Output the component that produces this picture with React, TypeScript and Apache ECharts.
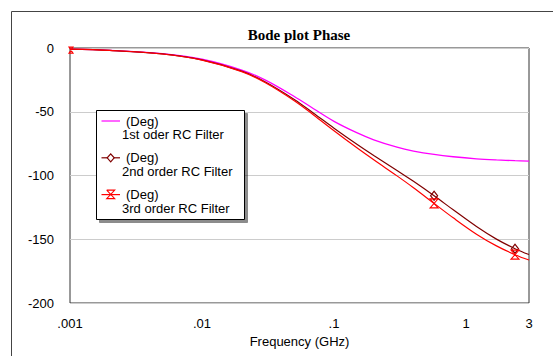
import React, { useEffect, useRef } from 'react';
import * as echarts from 'echarts';

const chartTitle = 'Bode plot Phase';
const xAxisName = 'Frequency (GHz)';
const unitLabel = '(Deg)';
const seriesNames = ['1st oder RC Filter', '2nd order RC Filter', '3rd order RC Filter'];

// frequency in GHz
const frequencies = [0.001, 0.002, 0.005, 0.01, 0.02, 0.03, 0.05, 0.07, 0.1, 0.15, 0.2, 0.3, 0.4, 0.573, 0.8, 1.2, 1.7, 2.35, 3];
// phase in degrees
const firstOrder = [-0.9, -1.8, -4.4, -8.8, -17.3, -25.0, -38.0, -47.6, -57.5, -66.6, -72.0, -77.8, -80.8, -83.5, -85.3, -86.9, -87.8, -88.4, -88.7];
const secondOrder = [-0.9, -1.9, -4.6, -9.3, -18.1, -26.4, -40.3, -51.1, -62.9, -75.7, -84.3, -96.0, -104.6, -115.9, -126.9, -140.0, -149.9, -157.4, -162.0];
const thirdOrder = [-0.9, -1.9, -4.7, -9.5, -18.5, -27.0, -41.3, -52.5, -64.9, -78.5, -87.7, -100.3, -109.6, -121.9, -133.2, -146.0, -155.2, -162.1, -166.3];
const secondMarkerIndices = [13, 17];
const thirdMarkerIndices = [0, 13, 17];

const xTickValues = [0.001, 0.01, 0.1, 1, 3];
const xTickLabels = ['.001', '.01', '.1', '1', '3'];
const yMin = -200;
const yMax = 0;
const yInterval = 50;

const colors = ['#ff00ff', '#800000', '#ff0000'];
const HOURGLASS = 'path://M0,0L10,0L0,10L10,10Z';

function xLabel(v: number): string {
  for (let i = 0; i < xTickValues.length; i++) {
    if (Math.abs(Math.log10(v) - Math.log10(xTickValues[i])) < 1e-4) return xTickLabels[i];
  }
  return '';
}

function buildData(values: number[], markers: number[], symbol: string | null, size: number[]) {
  return frequencies.map((f, i) => {
    if (symbol && markers.includes(i)) {
      if (i === 0) {
        return { value: [f, values[i]], symbol, symbolSize: [4, 6], symbolOffset: [1, 1] };
      }
      return { value: [f, values[i]], symbol, symbolSize: size };
    }
    return { value: [f, values[i]], symbol: 'none' };
  });
}

function legendGraphic() {
  const boxX = 96.5;
  const boxY = 110.5;
  const Z = 100;
  const children: any[] = [
    {
      type: 'rect',
      z: Z,
      shape: { x: boxX, y: boxY, width: 148, height: 109 },
      style: { fill: '#fff', stroke: '#000', lineWidth: 1, shadowColor: 'rgba(0,0,0,0.45)', shadowOffsetX: 3, shadowOffsetY: 3, shadowBlur: 1 },
    },
  ];
  const font = '13px "Liberation Sans", Arial, sans-serif';
  seriesNames.forEach((name, i) => {
    const cy = 121 + i * 36.8;
    children.push({
      type: 'line',
      z: Z + 1,
      shape: { x1: 101.5, y1: cy, x2: 120, y2: cy },
      style: { stroke: colors[i], lineWidth: 1.2 },
    });
    if (i === 1) {
      children.push({
        type: 'polygon',
        z: Z + 2,
        shape: { points: [[110.7, cy - 4], [114.2, cy], [110.7, cy + 4], [107.2, cy]] },
        style: { fill: '#fff', stroke: colors[i], lineWidth: 1.2 },
      });
    }
    if (i === 2) {
      children.push({
        type: 'polyline',
        z: Z + 2,
        shape: { points: [[106.7, cy - 4.5], [114.7, cy - 4.5], [106.7, cy + 4], [114.7, cy + 4], [106.7, cy - 4.5]] },
        style: { fill: 'none', stroke: colors[i], lineWidth: 1.1 },
      });
    }
    children.push({
      type: 'text',
      z: Z + 2,
      x: 126,
      y: cy,
      style: { text: unitLabel, font, fill: '#000', align: 'left', verticalAlign: 'middle' },
    });
    children.push({
      type: 'text',
      z: Z + 2,
      x: 122,
      y: cy + 13.8,
      style: { text: name, font, fill: '#000', align: 'left', verticalAlign: 'middle' },
    });
  });
  return children;
}

export default function App() {
  const ref = useRef<HTMLDivElement>(null);
  useEffect(() => {
    if (!ref.current) return;
    const chart = echarts.init(ref.current, null, { renderer: 'svg' });
    const labelFont = { fontFamily: '"Liberation Sans", Arial, sans-serif', fontSize: 13, color: '#000' };
    chart.setOption({
      animation: false,
      backgroundColor: '#fff',
      grid: {
        left: 70,
        top: 48,
        right: 25,
        bottom: 53,
        show: true,
        borderColor: '#333',
        borderWidth: 1,
        backgroundColor: 'transparent',
      },
      xAxis: {
        type: 'log',
        logBase: 10,
        min: 0.001,
        max: 3,
        name: xAxisName,
        nameLocation: 'middle',
        nameGap: 31,
        nameTextStyle: { ...labelFont },
        axisLine: { show: false },
        axisTick: { show: false },
        splitLine: { show: false },
        minorTick: { show: false },
        axisLabel: { ...labelFont, margin: 14, formatter: (v: number) => xLabel(v), showMaxLabel: true, showMinLabel: true },
      },
      yAxis: {
        type: 'value',
        min: yMin,
        max: yMax,
        interval: yInterval,
        axisLine: { show: false },
        axisTick: { show: false },
        splitLine: { show: true, lineStyle: { color: '#cccccc', width: 1 } },
        axisLabel: { ...labelFont, margin: 16 },
      },
      series: [
        {
          type: 'line',
          name: seriesNames[0],
          smooth: 0.35,
          symbol: 'none',
          data: buildData(firstOrder, [], null, []),
          lineStyle: { color: colors[0], width: 1.3 },
          itemStyle: { color: colors[0] },
          z: 3,
        },
        {
          type: 'line',
          name: seriesNames[1],
          smooth: 0.35,
          symbol: 'diamond',
          showSymbol: true,
          data: buildData(secondOrder, secondMarkerIndices, 'diamond', [7, 9]),
          lineStyle: { color: colors[1], width: 1.2 },
          itemStyle: { color: 'transparent', borderColor: colors[1], borderWidth: 1.2 },
          z: 4,
        },
        {
          type: 'line',
          name: seriesNames[2],
          smooth: 0.35,
          symbol: HOURGLASS,
          showSymbol: true,
          data: buildData(thirdOrder, thirdMarkerIndices, HOURGLASS, [8, 9]),
          lineStyle: { color: colors[2], width: 1.2 },
          itemStyle: { color: 'transparent', borderColor: colors[2], borderWidth: 1.1 },
          z: 5,
        },
      ],
      graphic: [
        {
          type: 'line',
          z: -10,
          silent: true,
          shape: { x1: 11.5, y1: 11.5, x2: 553, y2: 11.5 },
          style: { stroke: '#444', lineWidth: 1 },
        },
        {
          type: 'line',
          z: -10,
          silent: true,
          shape: { x1: 11.5, y1: 11.5, x2: 11.5, y2: 356 },
          style: { stroke: '#444', lineWidth: 1 },
        },
        {
          type: 'text',
          x: 299,
          y: 35,
          style: {
            text: chartTitle,
            font: 'bold 15px "Liberation Serif", "Times New Roman", serif',
            fill: '#000',
            align: 'center',
            verticalAlign: 'middle',
          },
        },
        ...legendGraphic(),
      ],
    });
    return () => chart.dispose();
  }, []);
  return <div ref={ref} style={{ position: 'fixed', left: 0, top: 0, width: 554, height: 356 }} />;
}
